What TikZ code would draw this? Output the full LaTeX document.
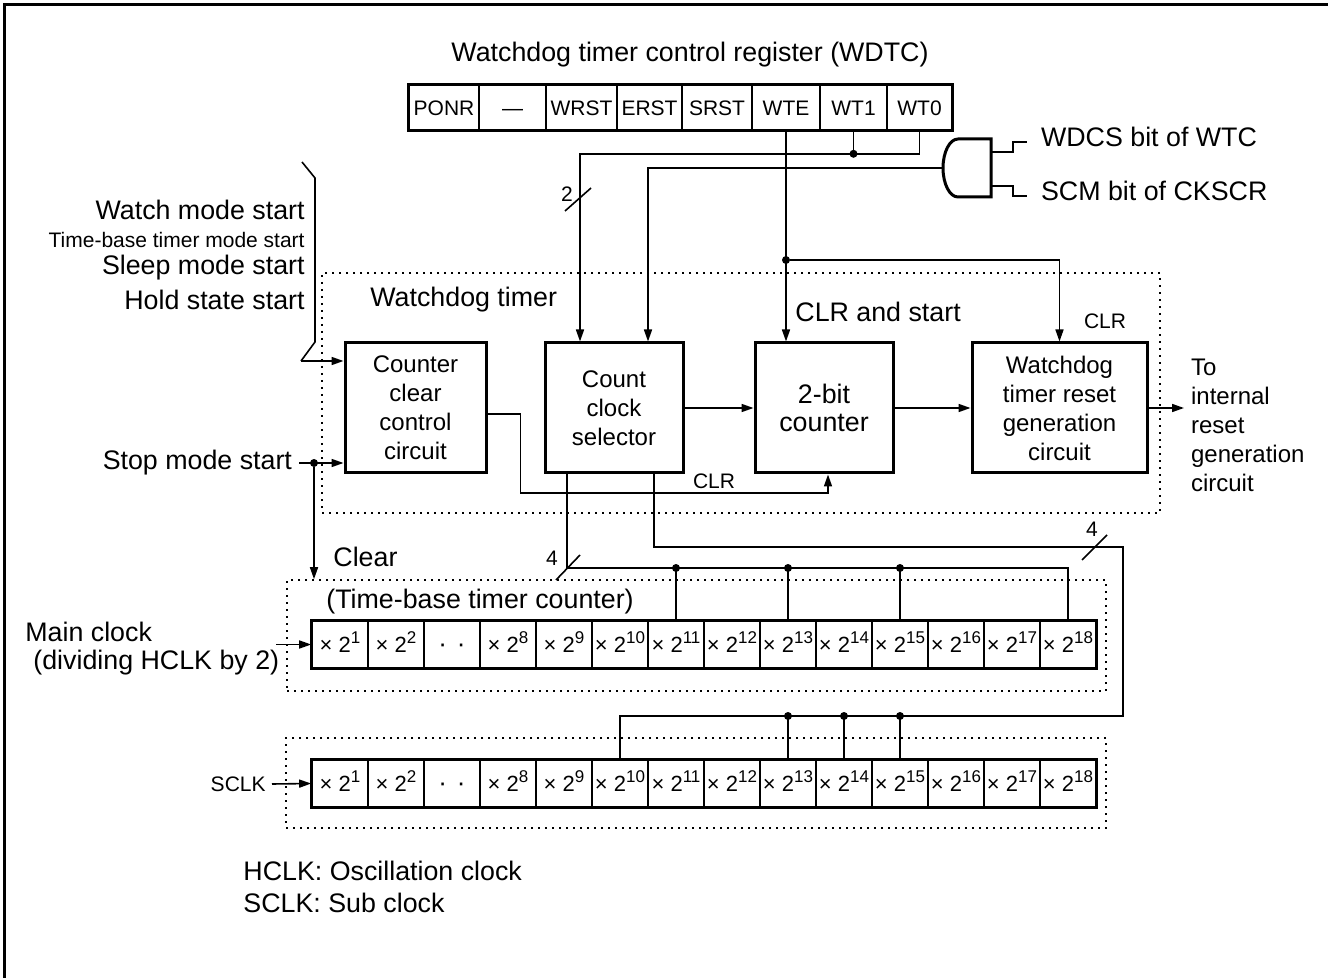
\documentclass[tikz,border=0pt]{standalone}
\usepackage{fontspec}
\setmainfont{Liberation Sans}
\usetikzlibrary{arrows.meta,positioning}
\newcommand{\pw}[1]{×~2\raisebox{0.42em}{\fontsize{8.5}{9}\selectfont #1}}
\tikzset{
  wire/.style={line width=0.8pt},
  sig/.style={wire,-{Triangle[length=6pt,width=4pt]}},
  fbig/.style={font=\fontsize{13.4}{16}\selectfont},
  fmid/.style={font=\fontsize{12}{14.5}\selectfont},
  fsml/.style={font=\fontsize{10.5}{12}\selectfont},
  blk/.style={draw,line width=1.5pt,minimum height=65pt,inner sep=0pt,align=center,fmid},
  regcell/.style={draw,line width=0.8pt,minimum height=22.5pt,inner sep=0pt,text height=7.6pt,text depth=0pt,fsml},
  cell/.style={draw,line width=0.8pt,minimum width=28pt,minimum height=23.5pt,inner sep=0pt,text height=7.8pt,text depth=0pt,font=\fontsize{11}{12}\selectfont},
  grp/.style={draw,line width=0.8pt,dash pattern=on 1pt off 2.5pt,inner sep=0pt},
  jdot/.style={circle,fill,inner sep=0pt,minimum size=4pt},
}
\begin{document}
\begin{tikzpicture}[x=0.5pt,y=-0.5pt]
\useasboundingbox (0,0) rectangle (1328,978);
\draw[line width=1.5pt] (4.5,978) -- (4.5,4.5) -- (1328,4.5);

% control register
\node[fbig] (regtitle) at (690,55) {Watchdog timer control register (WDTC)};
\foreach \a/\b/\t [count=\i] in {409/479/PONR,479/546/---,546/617/WRST,617/682/ERST,682/752/SRST,752/820/WTE,820/887/WT1,887/952/WT0}
  \node[regcell,minimum width={(\b-\a)*0.5pt}] (r\i) at ({(\a+\b)/2},107.5) {\t};
\draw[line width=1.5pt] (r1.north west) rectangle (r8.south east);

% and gate
\draw[line width=1.5pt] (991,139) -- (958,139) arc[start angle=270,end angle=90,x radius=15,y radius=29] -- (991,197) -- cycle;
\coordinate (andout) at (943,168);
\coordinate (andin1) at (991,152);
\coordinate (andin2) at (991,186);
\node[fbig,anchor=west] (wdcs) at (1034,137) {WDCS bit of WTC};
\node[fbig,anchor=west] (scm) at (1034,191) {SCM bit of CKSCR};
\draw[wire] (andin1) -- ++(22,0) -- ++(0,-10) -- ++(14,0);
\draw[wire] (andin2) -- ++(22,0) -- ++(0,10) -- ++(14,0);

% watchdog timer
\node[grp,minimum width=419pt,minimum height=120pt] (wdgrp) at (741,393) {};
\node[fbig,anchor=west,inner sep=0pt] (wdname) at (370,300) {Watchdog timer};
\node[blk,minimum width=70.5pt] (clrctl) at (415.5,408) {Counter\\clear\\control\\circuit};
\node[blk,minimum width=69pt] (clksel) at (614,408) {Count\\clock\\selector};
\node[blk,minimum width=69pt,font=\fontsize{13.4}{14}\selectfont] (cnt2) at (824,408) {2-bit\\counter};
\node[blk,minimum width=87.5pt] (wdrst) at (1059.5,408) {Watchdog\\timer reset\\generation\\circuit};

% register bits
\draw[wire] (r7.south) -- ++(0,23) node[jdot] (wt1j) {};
\draw[sig] (r8.south) -- ++(0,23) -| ([xshift=-17pt]clksel.north);
\draw[sig] (andout) -| ([xshift=17pt]clksel.north);
\draw[wire] (565,211) -- (591,188);
\node[fsml] (n2) at (567,194) {2};
\node[jdot] (wtej) at (r6.south |- 0,260) {};
\draw[sig] (r6.south) -- (r6.south |- cnt2.north);
\draw[sig] (wtej) -| (wdrst.north);
\node[fbig,anchor=west,inner sep=0pt] (clrst) at (795,312) {CLR and start};
\node[fsml] (clrw) at (1105,321) {CLR};

\draw[sig] (clksel) -- (cnt2);
\draw[sig] (cnt2) -- (wdrst);
\node[fmid,anchor=west,align=left] (toreset) at (1184,425) {To\\internal\\reset\\generation\\circuit};
\draw[sig] (wdrst.east) -- (wdrst.east -| toreset.west);

% inputs
\node[fbig,anchor=east,inner sep=0pt] (watch) at (305,210) {Watch mode start};
\node[fsml,anchor=east,inner sep=0pt] (tbmode) at (305,240) {Time-base timer mode start};
\node[fbig,anchor=east,inner sep=0pt] (sleep) at (305,268) {Sleep mode start};
\node[fbig,anchor=east,inner sep=0pt] (hold) at (305,300) {Hold state start};
\coordinate (brk) at (301,361);
\draw[wire] (302,162) -- (315,178) -- (315,342) -- (brk);
\draw[sig] (brk) -- (brk -| clrctl.west);
\node[fbig,anchor=east] (stop) at (299,463) {Stop mode start};
\node[jdot] (stopj) at (314,463) {};
\draw[sig] (stop.east) -- (stop.east -| clrctl.west);
\draw[sig] ([yshift=-3pt]clrctl.east) -- ++(33,0) -- ++(0,79) -| ([xshift=2pt]cnt2.south);
\node[fsml] (clrc) at (714,481) {CLR};

% time-base timer counter
\node[grp,minimum width=409.5pt,minimum height=55.5pt] (tbgrp) at (696.5,635.5) {};
\draw[sig] (stopj) -- (stopj |- tbgrp.north);
\node[fbig,anchor=west,inner sep=0pt] (clear) at (333,557) {Clear};
\node[fbig,anchor=west,inner sep=0pt] (tbname) at (326,602) {(Time-base timer counter)};
\foreach \t [count=\i from 0] in {\pw{1},\pw{2},{\fontsize{13}{13}\selectfont ·\hspace{5pt}·},\pw{8},\pw{9},\pw{10},\pw{11},\pw{12},\pw{13},\pw{14},\pw{15},\pw{16},\pw{17},\pw{18}}
  \node[cell] (tb\i) at ({340+56*\i},644.5) {\t};
\draw[line width=1.5pt] (tb0.north west) rectangle (tb13.south east);
\node[fbig,anchor=west,inner sep=0pt] (mclk) at (25,632) {Main clock};
\node[fbig,anchor=west,inner sep=0pt] (mclkdiv) at (33,663) {(dividing HCLK by 2)};
\coordinate (mclkin) at (276,644.5);
\draw[sig] (mclkin) -- (tb0.west);

\coordinate (bus1) at (567,568);
\draw[wire] (bus1 |- clksel.south) -- (bus1) -| (tb13.north);
\foreach \k in {6,8,10}
  \draw[wire] (tb\k.north) -- (tb\k.north |- bus1) node[jdot] {};
\draw[wire] (556,580) -- (580,555);
\node[fsml] (n4a) at (552,558) {4};

% sub clock counter
\node[grp,minimum width=410pt,minimum height=45pt] (scgrp) at (696,783) {};
\foreach \t [count=\i from 0] in {\pw{1},\pw{2},{\fontsize{13}{13}\selectfont ·\hspace{5pt}·},\pw{8},\pw{9},\pw{10},\pw{11},\pw{12},\pw{13},\pw{14},\pw{15},\pw{16},\pw{17},\pw{18}}
  \node[cell] (sc\i) at ({340+56*\i},783.5) {\t};
\draw[line width=1.5pt] (sc0.north west) rectangle (sc13.south east);
\node[fsml,anchor=east,inner sep=3pt] (sclk) at (272,784) {SCLK};
\draw[sig] (sclk.east) -- (sc0.west);

\coordinate (bus2a) at (654,547);
\coordinate (bus2b) at (1123,716);
\draw[wire] (bus2a |- clksel.south) -- (bus2a) -| (bus2b) -| (sc5.north);
\foreach \k in {8,9,10}
  \draw[wire] (sc\k.north) -- (sc\k.north |- bus2b) node[jdot] {};
\draw[wire] (1082,560) -- (1107,535);
\node[fsml] (n4b) at (1092,529) {4};

% legend
\node[fbig,anchor=west,inner sep=0pt] (leg1) at (243,871) {HCLK: Oscillation clock};
\node[fbig,anchor=west,inner sep=0pt] (leg2) at (243,903) {SCLK: Sub clock};
\end{tikzpicture}
\end{document}
